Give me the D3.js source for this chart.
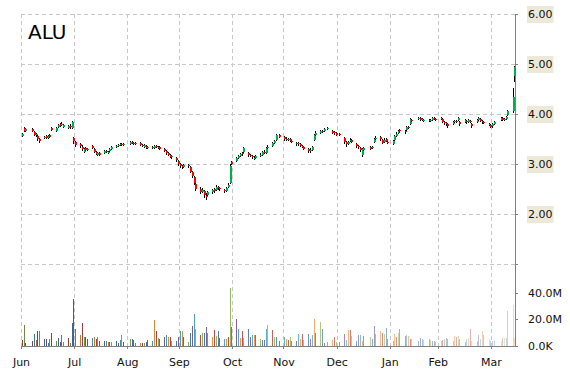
<!DOCTYPE html>
<html>
<head>
<meta charset="utf-8">
<script src="https://cdn.jsdelivr.net/npm/d3@7"></script>
<style>
body { margin: 0; background: #fff; }
svg { display: block; font-family: "DejaVu Sans", sans-serif; }
</style>
</head>
<body>
<div id="chart-area"></div>
<script>

// SVG Size
let width = 570,
	height = 370;

// trading days Jul 1 2014 - Apr 14 2015 (the month labels on the source run one month behind)
const firstDay = "2014-07-01", lastDay = "2015-04-14";
const holidays = ["2014-07-04", "2014-09-01", "2014-11-27", "2014-12-25", "2015-01-01", "2015-01-19", "2015-02-16", "2015-04-03"];
const monthLabels = ["Jun", "Jul", "Aug", "Sep", "Oct", "Nov", "Dec", "Jan", "Feb", "Mar"];
const priceTicks = [1, 2, 3, 4, 5, 6];
const priceLabels = ["", "2.00", "3.00", "4.00", "5.00", "6.00"];
const volTicks = [0, 20, 40];
const volLabels = ["0.0K", "20.0M", "40.0M"];

// OHLC, one value per trading day, grouped by month / week
const open = [
	3.56,3.72,3.66, 3.70,3.64,3.58,3.56,3.50, 3.52,3.56,3.52,3.58,3.72, 3.66,3.74,3.80,3.78,3.74, 3.72,3.76,3.72,3.52,
	3.44, 3.40,3.34,3.24,3.32,3.28, 3.36,3.30,3.24,3.18,3.22, 3.22,3.26,3.24,3.26,3.30, 3.34,3.36,3.38,3.40,3.38,
	3.40,3.44,3.42,3.40, 3.42,3.38,3.34,3.36,3.32, 3.34,3.32,3.36,3.34,3.34, 3.30,3.26,3.22,3.18,3.14, 3.12,3.06,
	3.00,2.96,2.94, 2.98,2.94,2.84,2.74,2.60, 2.50,2.44,2.46,2.36,2.38, 2.44,2.50,2.48,2.54,2.52, 2.48,2.46,2.54,2.62,3.04,
	3.06,3.12,3.16,3.22,3.24, 3.22,3.18,3.16,3.12,3.12, 3.16,3.18,3.24,3.22,3.32, 3.36,3.42,3.48, 3.58,
	3.54,3.50,3.48,3.50,3.46, 3.42,3.40,3.40,3.36,3.34, 3.30,3.26,3.28,3.48,3.58, 3.62,3.66,3.66, 3.70, 3.66,3.64,3.62,
	3.60, 3.52,3.44,3.40,3.46,3.48, 3.40,3.36,3.32,3.18,3.28, 3.34,3.32,3.44,3.50, 3.54,3.48,3.44,3.50,3.44,
	3.40,3.48,3.56,3.62,3.68, 3.66,3.68,3.74,3.80,3.88, 3.90,3.92,3.88,3.86, 3.88,3.86,3.88,3.92,3.90,
	3.90,3.90,3.84,3.82,3.80, 3.80,3.84,3.86,3.88,3.84, 3.84,3.86,3.84,3.86,3.80, 3.84,3.88,3.90,3.86,3.84, 3.80,3.78,
	3.76,3.80, 3.88,3.92,3.88,3.90,3.98, 4.06,4.76
];
const high = [
	3.62,3.74,3.72, 3.72,3.66,3.62,3.58,3.52, 3.56,3.58,3.58,3.60,3.74, 3.74,3.80,3.82,3.84,3.80, 3.78,3.80,3.86,3.54,
	3.46, 3.42,3.38,3.32,3.34,3.32, 3.38,3.32,3.26,3.24,3.24, 3.28,3.28,3.26,3.32,3.36, 3.38,3.40,3.42,3.42,3.42,
	3.46,3.46,3.44,3.44, 3.44,3.40,3.40,3.38,3.36, 3.36,3.38,3.38,3.36,3.36, 3.32,3.28,3.24,3.20,3.18, 3.14,3.08,
	3.02,2.98,3.00, 3.00,2.96,2.86,2.76,2.62, 2.54,2.52,2.48,2.42,2.46, 2.50,2.52,2.58,2.56,2.54, 2.50,2.54,2.62,3.00,3.06,
	3.14,3.18,3.22,3.24,3.34, 3.24,3.20,3.18,3.16,3.18, 3.22,3.26,3.28,3.34,3.38, 3.44,3.48,3.60, 3.60,
	3.56,3.54,3.52,3.52,3.48, 3.44,3.44,3.42,3.38,3.36, 3.32,3.32,3.36,3.60,3.66, 3.68,3.68,3.72, 3.74, 3.68,3.66,3.64,
	3.62, 3.54,3.46,3.46,3.52,3.50, 3.42,3.38,3.34,3.32,3.34, 3.36,3.36,3.52,3.56, 3.56,3.50,3.52,3.52,3.46,
	3.48,3.58,3.64,3.68,3.70, 3.68,3.76,3.76,3.92,3.90, 3.94,3.94,3.92,3.90, 3.90,3.90,3.94,3.94,3.92,
	3.94,3.92,3.86,3.84,3.82, 3.86,3.88,3.88,3.94,3.86, 3.90,3.88,3.90,3.88,3.82, 3.90,3.94,3.92,3.88,3.86, 3.82,3.80,
	3.82,3.86, 3.94,3.94,3.92,3.96,4.08, 4.52,4.96
];
const low = [
	3.54,3.64,3.64, 3.64,3.56,3.54,3.46,3.42, 3.50,3.50,3.50,3.52,3.66, 3.64,3.72,3.74,3.76,3.72, 3.70,3.70,3.70,3.40,
	3.34, 3.32,3.26,3.22,3.26,3.26, 3.30,3.22,3.18,3.16,3.16, 3.20,3.22,3.20,3.24,3.28, 3.32,3.34,3.36,3.36,3.36,
	3.38,3.40,3.38,3.38, 3.36,3.34,3.32,3.30,3.30, 3.30,3.30,3.32,3.30,3.28, 3.24,3.18,3.16,3.12,3.10, 3.04,2.96,
	2.92,2.90,2.92, 2.92,2.82,2.72,2.58,2.46, 2.40,2.42,2.32,2.28,2.36, 2.40,2.42,2.46,2.48,2.46, 2.42,2.44,2.52,2.60,2.98,
	3.04,3.10,3.14,3.16,3.22, 3.14,3.14,3.10,3.08,3.10, 3.14,3.16,3.20,3.20,3.30, 3.34,3.40,3.46, 3.52,
	3.46,3.46,3.46,3.44,3.42, 3.36,3.36,3.34,3.32,3.28, 3.22,3.22,3.26,3.46,3.56, 3.60,3.62,3.64, 3.68, 3.60,3.58,3.56,
	3.56, 3.40,3.34,3.38,3.44,3.42, 3.32,3.30,3.24,3.14,3.26, 3.28,3.30,3.42,3.48, 3.46,3.40,3.42,3.44,3.40,
	3.38,3.46,3.54,3.60,3.62, 3.60,3.66,3.70,3.78,3.84, 3.88,3.86,3.86,3.84, 3.84,3.84,3.86,3.88,3.86,
	3.88,3.82,3.78,3.76,3.72, 3.78,3.82,3.82,3.86,3.76, 3.82,3.80,3.82,3.82,3.72, 3.82,3.86,3.84,3.80,3.80, 3.76,3.72,
	3.72,3.78, 3.86,3.86,3.86,3.88,3.96, 4.02,4.64
];
const close = [
	3.60,3.66,3.70, 3.66,3.58,3.60,3.50,3.46, 3.54,3.52,3.56,3.54,3.68, 3.72,3.78,3.76,3.80,3.78, 3.76,3.74,3.84,3.46,
	3.38, 3.36,3.30,3.30,3.28,3.30, 3.32,3.24,3.20,3.22,3.18, 3.26,3.24,3.24,3.30,3.34, 3.36,3.38,3.40,3.38,3.40,
	3.44,3.42,3.40,3.42, 3.38,3.36,3.38,3.32,3.34, 3.32,3.36,3.34,3.32,3.30, 3.26,3.22,3.18,3.14,3.16, 3.08,3.00,
	2.96,2.94,2.98, 2.96,2.84,2.76,2.62,2.50, 2.44,2.48,2.38,2.34,2.44, 2.48,2.46,2.54,2.52,2.50, 2.46,2.52,2.58,2.96,3.00,
	3.12,3.16,3.20,3.20,3.32, 3.18,3.16,3.14,3.12,3.16, 3.18,3.24,3.22,3.32,3.34, 3.42,3.46,3.58, 3.54,
	3.50,3.48,3.50,3.46,3.44, 3.40,3.42,3.36,3.34,3.30, 3.26,3.28,3.34,3.58,3.62, 3.66,3.64,3.70, 3.72, 3.62,3.62,3.58,
	3.58, 3.44,3.40,3.44,3.48,3.44, 3.36,3.34,3.28,3.30,3.32, 3.30,3.34,3.50,3.52, 3.50,3.42,3.48,3.46,3.42,
	3.46,3.56,3.60,3.66,3.66, 3.64,3.74,3.72,3.90,3.86, 3.92,3.88,3.90,3.88, 3.86,3.88,3.92,3.90,3.88,
	3.92,3.84,3.82,3.80,3.76, 3.84,3.86,3.84,3.92,3.80, 3.88,3.84,3.88,3.84,3.76, 3.88,3.92,3.86,3.84,3.82, 3.78,3.74,
	3.80,3.84, 3.92,3.88,3.90,3.94,4.06, 4.34,4.94
];
// volume in millions of shares
const volume = [
	4.5,16,2, 4,9,4.5,11,11, 5.5,5.5,2.5,5,10, 4,6,3,8,3, 6,2,17,35,
	13, 8,17,6.5,7,5, 6,7,5,7,4, 4,4,3,3,3, 4,2,4.5,8,3,
	5,5.5,4.5,2, 2,2.5,2,3,4.5, 4,19.5,11,6,5, 7,8.5,7,6.5,4, 4,7,
	11.5,11.5,7, 3,10,15,24,13, 8.5,10,10,14.5,10, 7,12,7.5,11,6, 5,5,7,43,14.5,
	20,12.5,6,11,6, 13,7,8,8.5,8.5, 5,4.5,4.5,13,16, 12,7,7, 4,
	7,5,4.5,6.5,4, 4,9,5,9,4.5, 9,5,8,20,10, 18,13,2.5, 3, 4.5,6.5,3,
	3, 9,4.5,12,12,7.5, 4,8,8,4,7.5, 6.5,5,15,9, 11,9.5,9,13.5,5,
	4,9,7,9.5,13, 7.5,8.5,7.5,5.5,5, 4,6,5,4.5, 5,4.5,4,4,3,
	4,4.5,5,6,5, 4,7.5,6.5,7.5,5, 3,5,6,12.5,4, 4,8,5,11,8, 5,4,
	4,4.5, 4,6,6,6,26, 31,6
];

const accents = ["#c0504d", "#9bbb59", "#4f81bd", "#8064a2", "#4bacc6", "#f79646"];

let parseDate = d3.timeParse("%Y-%m-%d"),
	fmtDate = d3.timeFormat("%Y-%m-%d");

let days = d3.timeDay.range(parseDate(firstDay), d3.timeDay.offset(parseDate(lastDay), 1))
	.filter(d => d.getDay() !== 0 && d.getDay() !== 6 && !holidays.includes(fmtDate(d)));

let data = days.map((d, i) => ({
	date: d, o: open[i], h: high[i], l: low[i], c: close[i], v: volume[i]
}));
console.log(days.length, close.length, volume.length);

drawChart(data);

function volColor(i, n) {
	let base = accents[i % accents.length];
	let t = i / (n - 1);
	if (t < 0.45) return d3.interpolateRgb(d3.rgb(base).darker(0.9), base)(t / 0.45);
	return d3.interpolateRgb(base, "#ffffff")((t - 0.45) / 0.55 * 0.68);
}

function drawChart(data) {
	let svg = d3.select("#chart-area").append("svg").attr("width", width).attr("height", height);

	let left = 21, right = 515, top = 14, volBottom = 346;

	let x = d3.scaleTime()
		.domain([parseDate("2014-07-01"), parseDate("2015-04-15")])
		.range([left, right]);
	let yPrice = d3.scaleLinear().domain([1, 6]).range([264, top]);
	let yVol = d3.scaleLinear().domain([0, 40]).range([volBottom, 292.5]);

	let months = d3.timeMonth.range(parseDate("2014-07-01"), parseDate("2015-04-02"));

	// grid
	let grid = svg.append("g")
		.attr("stroke", "#c8c8c8")
		.attr("stroke-dasharray", "4,3")
		.attr("shape-rendering", "crispEdges");

	grid.selectAll(".hgrid")
		.data(priceTicks)
		.enter()
		.append("line")
		.attr("x1", left)
		.attr("x2", right)
		.attr("y1", d => Math.round(yPrice(d)) + 0.5)
		.attr("y2", d => Math.round(yPrice(d)) + 0.5);

	grid.selectAll(".vgrid")
		.data(months)
		.enter()
		.append("line")
		.attr("x1", d => Math.round(x(d)) + 0.5)
		.attr("x2", d => Math.round(x(d)) + 0.5)
		.attr("y1", top)
		.attr("y2", volBottom);

	let cx = d => Math.round(x(d.date)) + 1;

	// volume bars
	svg.append("g")
		.attr("shape-rendering", "crispEdges")
		.selectAll("rect")
		.data(data)
		.enter()
		.append("rect")
		.attr("x", d => cx(d))
		.attr("width", 1)
		.attr("y", d => yVol(d.v))
		.attr("height", d => yVol(0) - yVol(d.v))
		.attr("fill", (d, i) => volColor(i, data.length));

	// axes
	let priceAxis = d3.axisRight(yPrice)
		.tickValues(priceTicks)
		.tickSize(3)
		.tickPadding(10)
		.tickFormat((d, i) => priceLabels[i]);
	let volAxis = d3.axisRight(yVol)
		.tickValues(volTicks)
		.tickSize(3)
		.tickPadding(10)
		.tickFormat((d, i) => volLabels[i]);
	let xAxis = d3.axisBottom(x)
		.tickValues(months)
		.tickSize(3)
		.tickSizeOuter(0)
		.tickPadding(9)
		.tickFormat((d, i) => monthLabels[i]);

	let gPrice = svg.append("g")
		.attr("class", "axis y-axis")
		.attr("transform", "translate(" + right + ",0)")
		.call(priceAxis);
	let gVol = svg.append("g")
		.attr("class", "axis v-axis")
		.attr("transform", "translate(" + right + ",0)")
		.call(volAxis);
	let gX = svg.append("g")
		.attr("class", "axis x-axis")
		.attr("transform", "translate(0," + volBottom + ")")
		.call(xAxis);

	[gPrice, gVol, gX].forEach(g => {
		g.select(".domain").remove();
		g.attr("font-family", null).attr("font-size", 11);
		g.selectAll("line").attr("stroke", "#808080").attr("shape-rendering", "crispEdges");
		g.selectAll("text").attr("fill", "#111");
	});

	svg.append("line")
		.attr("x1", right + 0.5).attr("x2", right + 0.5)
		.attr("y1", top).attr("y2", volBottom + 0.5)
		.attr("stroke", "#808080")
		.attr("shape-rendering", "crispEdges");
	svg.append("line")
		.attr("x1", left).attr("x2", right)
		.attr("y1", volBottom + 0.5).attr("y2", volBottom + 0.5)
		.attr("stroke", "#808080")
		.attr("shape-rendering", "crispEdges");

	// beige boxes behind the price labels
	gPrice.selectAll(".tick").each(function() {
		let t = d3.select(this).select("text");
		if (!t.text()) return;
		let b = t.node().getBBox();
		d3.select(this).insert("rect", "text")
			.attr("x", b.x - 1)
			.attr("y", b.y - 2)
			.attr("width", b.width + 2)
			.attr("height", b.height + 4)
			.attr("fill", "#ece9d8");
	});

	// candles
	let candles = svg.append("g")
		.attr("shape-rendering", "crispEdges")
		.selectAll("g")
		.data(data)
		.enter()
		.append("g");

	candles.append("line")
		.attr("x1", d => cx(d) + 0.5)
		.attr("x2", d => cx(d) + 0.5)
		.attr("y1", d => yPrice(d.h))
		.attr("y2", d => yPrice(d.l))
		.attr("stroke", "black");

	candles.append("rect")
		.attr("x", d => cx(d))
		.attr("width", 2)
		.attr("y", d => yPrice(Math.max(d.o, d.c)))
		.attr("height", d => Math.max(1, Math.abs(yPrice(d.o) - yPrice(d.c))))
		.attr("fill", d => d.c >= d.o ? "#00b050" : "#ff0000");

	// title
	svg.append("text")
		.attr("x", 28)
		.attr("y", 38.5)
		.attr("font-size", 20)
		.attr("fill", "#000")
		.text("ALU");
}

</script>
</body>
</html>
